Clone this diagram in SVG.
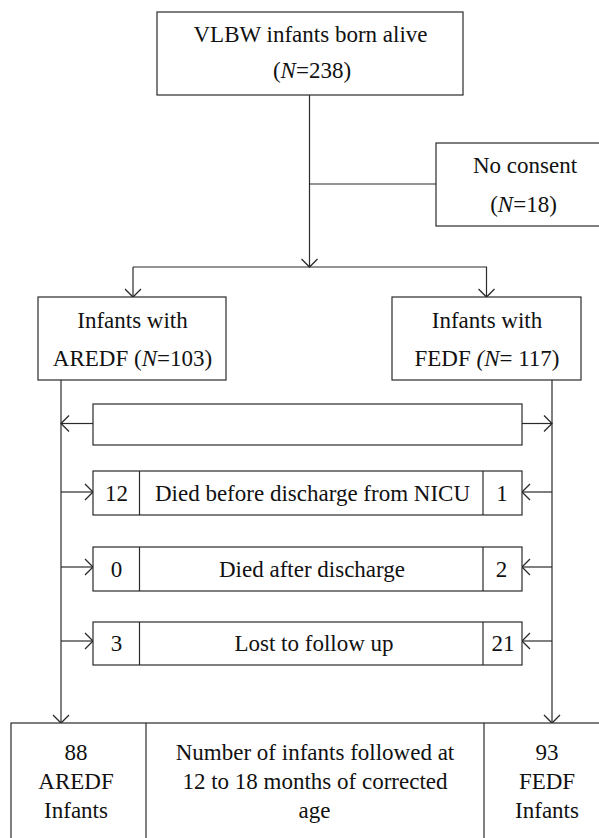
<svg xmlns="http://www.w3.org/2000/svg" width="599" height="838" viewBox="0 0 599 838">
<style>
.box{fill:#fff;stroke:#2a2a2a;stroke-width:1.2}
.ln{fill:none;stroke:#2a2a2a;stroke-width:1.2}
.t{font-family:'Liberation Serif','Times New Roman','DejaVu Serif',serif;font-size:23px;fill:#111;text-anchor:middle}
.i{font-style:italic}
</style>
<defs>
<marker id="arr" viewBox="-10 -10 11 20" refX="0" refY="0" markerWidth="11" markerHeight="20" markerUnits="userSpaceOnUse" orient="auto">
<path d="M-8,-8 L0,0 L-8,8" fill="none" stroke="#2a2a2a" stroke-width="1.3"/>
</marker>
</defs>
<rect width="599" height="838" fill="#fff"/>
<g id="connectors">
<line class="ln" x1="309.5" y1="95" x2="309.5" y2="267" marker-end="url(#arr)"/>
<line class="ln" x1="309.5" y1="184" x2="436" y2="184"/>
<line class="ln" x1="133" y1="267" x2="487" y2="267"/>
<line class="ln" x1="133" y1="267" x2="133" y2="297" marker-end="url(#arr)"/>
<line class="ln" x1="486.5" y1="267" x2="486.5" y2="297" marker-end="url(#arr)"/>
<line class="ln" x1="61" y1="380" x2="61" y2="723" marker-end="url(#arr)"/>
<line class="ln" x1="552" y1="380" x2="552" y2="723" marker-end="url(#arr)"/>
<line class="ln" x1="93" y1="423.5" x2="61" y2="423.5" marker-end="url(#arr)"/>
<line class="ln" x1="522" y1="423.5" x2="552" y2="423.5" marker-end="url(#arr)"/>
<line class="ln" x1="61" y1="492" x2="93" y2="492" marker-end="url(#arr)"/>
<line class="ln" x1="552" y1="492" x2="522" y2="492" marker-end="url(#arr)"/>
<line class="ln" x1="61" y1="567" x2="93" y2="567" marker-end="url(#arr)"/>
<line class="ln" x1="552" y1="567" x2="522" y2="567" marker-end="url(#arr)"/>
<line class="ln" x1="61" y1="641" x2="93" y2="641" marker-end="url(#arr)"/>
<line class="ln" x1="552" y1="641" x2="522" y2="641" marker-end="url(#arr)"/>
</g>
<g id="born">
<rect class="box" x="157" y="12" width="306" height="83"/>
<text class="t" x="310.5" y="42">VLBW infants born alive</text>
<text class="t" x="312" y="78">(<tspan class="i">N</tspan>=238)</text>
</g>
<g id="noconsent">
<rect class="box" x="436" y="143" width="180" height="83"/>
<text class="t" x="525" y="173">No consent</text>
<text class="t" x="523.5" y="212">(<tspan class="i">N</tspan>=18)</text>
</g>
<g id="aredf">
<rect class="box" x="38" y="297" width="188" height="83"/>
<text class="t" x="132.5" y="328">Infants with</text>
<text class="t" x="132.5" y="366">AREDF (<tspan class="i">N</tspan>=103)</text>
</g>
<g id="fedf">
<rect class="box" x="392" y="297" width="189" height="83"/>
<text class="t" x="487" y="328">Infants with</text>
<text class="t" x="487" y="366">FEDF <tspan class="i">(N</tspan>= 117)</text>
</g>
<g id="empty">
<rect class="box" x="93" y="404" width="429" height="41"/>
</g>
<g id="died-nicu">
<rect class="box" x="93" y="471" width="429" height="44"/>
<line class="ln" x1="139.5" y1="471" x2="139.5" y2="515"/>
<line class="ln" x1="483" y1="471" x2="483" y2="515"/>
<text class="t" x="116.5" y="500.5">12</text>
<text class="t" x="312.5" y="500.5">Died before discharge from NICU</text>
<text class="t" x="502" y="500.5">1</text>
</g>
<g id="died-after">
<rect class="box" x="93" y="547" width="429" height="44"/>
<line class="ln" x1="139.5" y1="547" x2="139.5" y2="591"/>
<line class="ln" x1="483" y1="547" x2="483" y2="591"/>
<text class="t" x="116.5" y="576.5">0</text>
<text class="t" x="312" y="576.5">Died after discharge</text>
<text class="t" x="501.5" y="576.5">2</text>
</g>
<g id="lost">
<rect class="box" x="93" y="622" width="429" height="43"/>
<line class="ln" x1="139.5" y1="622" x2="139.5" y2="665"/>
<line class="ln" x1="483" y1="622" x2="483" y2="665"/>
<text class="t" x="116.5" y="651">3</text>
<text class="t" x="314" y="651">Lost to follow up</text>
<text class="t" x="503" y="651">21</text>
</g>
<g id="followed">
<rect class="box" x="11" y="723" width="600" height="130"/>
<line class="ln" x1="146" y1="723" x2="146" y2="838"/>
<line class="ln" x1="484" y1="723" x2="484" y2="838"/>
<text class="t" x="76" y="760">88</text>
<text class="t" x="76" y="789">AREDF</text>
<text class="t" x="76" y="818">Infants</text>
<text class="t" x="315" y="760">Number of infants followed at</text>
<text class="t" x="315" y="789">12 to 18 months of corrected</text>
<text class="t" x="314.5" y="818">age</text>
<text class="t" x="547" y="760">93</text>
<text class="t" x="547" y="789">FEDF</text>
<text class="t" x="547" y="818">Infants</text>
</g>
</svg>
